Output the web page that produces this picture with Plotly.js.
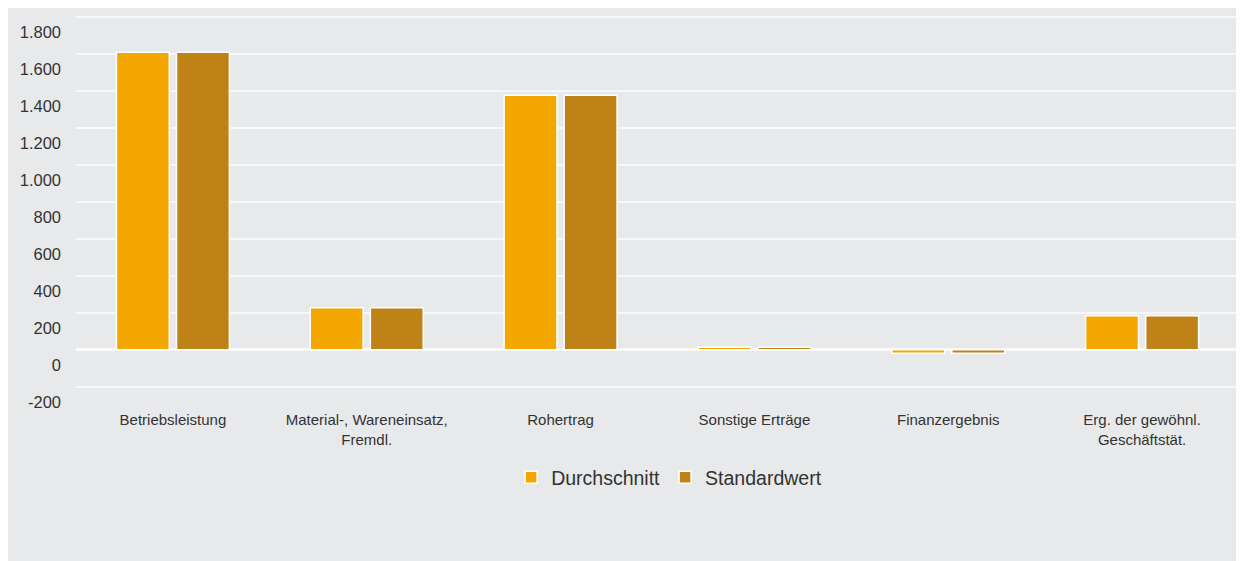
<!DOCTYPE html>
<html>
<head>
<meta charset="utf-8">
<script src="https://cdn.plot.ly/plotly-3.0.1.min.js"></script>
<style>
body { margin: 8px; background: #ffffff; }
#chart { width: 1236px; height: 553px; }
</style>
</head>
<body>
<div id="chart"></div>
<script>
var categories = ["Betriebsleistung", "Material-, Wareneinsatz,<br>Fremdl.", "Rohertrag", "Sonstige Erträge", "Finanzergebnis", "Erg. der gewöhnl.<br>Geschäftstät."];
var durchschnitt = [1610, 228, 1378, 14, -18, 184];
var standardwert = [1610, 228, 1378, 14, -18, 184];
var yTickVals = [-200, 0, 200, 400, 600, 800, 1000, 1200, 1400, 1600, 1800];
var yTickText = ["-200", "0", "200", "400", "600", "800", "1.000", "1.200", "1.400", "1.600", "1.800"];

var traces = [
  {
    type: "bar", name: "Durchschnitt", x: categories, y: durchschnitt,
    marker: { color: "#f4a700", line: { color: "#ffffff", width: 1.5 } },
    hoverinfo: "none"
  },
  {
    type: "bar", name: "Standardwert", x: categories, y: standardwert,
    marker: { color: "#bf8216", line: { color: "#ffffff", width: 1.5 } },
    hoverinfo: "none"
  }
];

var layout = {
  width: 1236, height: 553,
  paper_bgcolor: "#e8e9eb",
  plot_bgcolor: "#e8e9eb",
  margin: { l: 68, r: 5, t: 7, b: 172 },
  font: { family: "Liberation Sans, Arial, sans-serif", color: "#333333" },
  barmode: "group",
  bargap: 0.38,
  bargroupgap: 0.12,
  showlegend: true,
  legend: {
    orientation: "h", x: 0.51, xanchor: "center", y: -0.185, yanchor: "top",
    font: { size: 19.5, color: "#333333" }, bgcolor: "rgba(0,0,0,0)"
  },
  xaxis: {
    type: "category",
    showgrid: false, showline: false, zeroline: false,
    ticks: "", ticklabelstandoff: 20,
    tickfont: { size: 15, color: "#333333" }
  },
  yaxis: {
    range: [-212, 1812],
    tickvals: yTickVals, ticktext: yTickText,
    showgrid: true, gridcolor: "#f6f7f8", gridwidth: 2,
    zeroline: true, zerolinecolor: "#fafafa", zerolinewidth: 3,
    showline: false, ticks: "",
    ticklabelstandoff: 14, ticklabelshift: 15,
    tickfont: { size: 16.5, color: "#333333" }
  }
};

Plotly.newPlot("chart", traces, layout, { staticPlot: true, displayModeBar: false });
</script>
</body>
</html>
